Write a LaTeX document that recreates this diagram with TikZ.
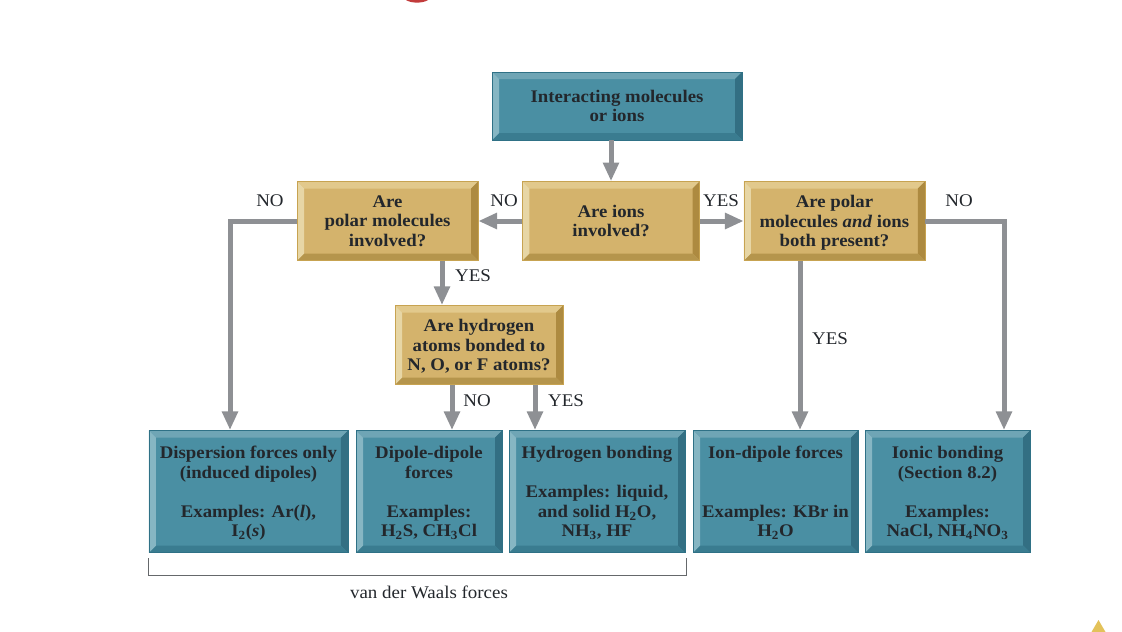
\documentclass[tikz,border=0pt]{standalone}
\usepackage{fontspec}
\setmainfont[FakeStretch=1.06]{Liberation Serif}
\usepackage{xcolor}
\usetikzlibrary{arrows.meta,calc}

\definecolor{tealface}{HTML}{4A8FA3}
\definecolor{tealedge}{HTML}{2F7186}
\definecolor{tealtop}{HTML}{6FA5B5}
\definecolor{teallight}{HTML}{86B6C3}
\definecolor{tealdark}{HTML}{336F83}
\definecolor{tealbottom}{HTML}{3A7C90}
\definecolor{tanface}{HTML}{D4B36C}
\definecolor{tanedge}{HTML}{C7A351}
\definecolor{tantop}{HTML}{E2C98C}
\definecolor{tanlight}{HTML}{E7D6A5}
\definecolor{tandark}{HTML}{AD8A40}
\definecolor{tanbottom}{HTML}{B5954C}
\definecolor{flowgray}{HTML}{8E9094}
\definecolor{inktext}{HTML}{23272C}
\definecolor{capred}{HTML}{C23B3B}
\definecolor{capgold}{HTML}{E3C25A}

% four slanted strips round the inside of a box: top, right, bottom, left
\newcommand{\bevelparts}[4]{
  \coordinate (nw) at (path picture bounding box.north west);
  \coordinate (ne) at (path picture bounding box.north east);
  \coordinate (se) at (path picture bounding box.south east);
  \coordinate (sw) at (path picture bounding box.south west);
  \fill[#1] (nw) -- (ne) -- ($(ne)+(-5.25pt,-5.25pt)$) -- ($(nw)+(5.25pt,-5.25pt)$) -- cycle;
  \fill[#2] (ne) -- (se) -- ($(se)+(-5.25pt,5.25pt)$) -- ($(ne)+(-5.25pt,-5.25pt)$) -- cycle;
  \fill[#3] (se) -- (sw) -- ($(sw)+(5.25pt,5.25pt)$) -- ($(se)+(-5.25pt,5.25pt)$) -- cycle;
  \fill[#4] (sw) -- (nw) -- ($(nw)+(5.25pt,-5.25pt)$) -- ($(sw)+(5.25pt,5.25pt)$) -- cycle;
}

\tikzstyle{boxtext} = [rectangle, align=center, inner sep=0pt, text=inktext, text depth=0pt, font=\fontsize{13.3}{14.6}\selectfont\bfseries]
\tikzstyle{tealbox} = [boxtext, draw=tealedge, line width=0.5pt, fill=tealface, path picture={\bevelparts{tealtop}{tealdark}{tealbottom}{teallight}}]
\tikzstyle{tanbox} = [boxtext, draw=tanedge, line width=0.5pt, fill=tanface, minimum height=59.25pt, path picture={\bevelparts{tantop}{tandark}{tanbottom}{tanlight}}]
\tikzstyle{result} = [tealbox, minimum height=91.5pt]
\tikzstyle{invis} = [draw=none, text=inktext, font=\fontsize{13.4}{14.6}\selectfont]
\tikzstyle{flow} = [flowgray, line width=3.75pt, -{Triangle[length=14pt,width=11.5pt]}]

\begin{document}
\begin{tikzpicture}[x=0.75pt,y=-0.75pt]
  \useasboundingbox (0,0) rectangle (1122,632);

  \node[tanbox, minimum width=133pt] (ions) at (611,221) {Are ions\\involved?};
  \node[tealbox, minimum width=187.5pt, minimum height=51pt] (start) [above of=ions, node distance=86.25pt, xshift=4.5pt] {Interacting molecules\\or ions};
  \node[tanbox, minimum width=135.75pt] (polar) [left of=ions, node distance=167.6pt] {Are\\polar molecules\\involved?};
  \node[tanbox, minimum width=135.75pt] (both) [right of=ions, node distance=167.6pt] {Are polar\\molecules \textit{and} ions\\both present?};
  \node[tanbox, minimum width=126pt] (hydrogen) [below of=polar, node distance=93pt, xshift=68.6pt] {Are hydrogen\\atoms bonded to\\N, O, or F atoms?};

  \node[result, minimum width=109.5pt] (dipole) [below of=hydrogen, node distance=109.9pt, xshift=-37.5pt] {Dipole-dipole\\forces\\[14.6pt]Examples:\\H\textsubscript{2}S, CH\textsubscript{3}Cl};
  \node[result, minimum width=149.25pt] (dispersion) [left of=dipole, node distance=135.4pt] {Dispersion forces only\\(induced dipoles)\\[14.6pt]Examples: Ar(\textit{l}),\\I\textsubscript{2}(\textit{s})};
  \node[result, minimum width=132pt] (hbond) [right of=dipole, node distance=126pt] {Hydrogen bonding\\[14.6pt]Examples: liquid,\\and solid H\textsubscript{2}O,\\NH\textsubscript{3}, HF};
  \node[result, minimum width=123.75pt] (iondipole) [right of=hbond, node distance=133.9pt] {Ion-dipole forces\\[29.2pt]Examples: KBr in\\H\textsubscript{2}O};
  \node[result, minimum width=123.75pt] (ionic) [right of=iondipole, node distance=129pt] {Ionic bonding\\(Section 8.2)\\[14.6pt]Examples:\\NaCl, NH\textsubscript{4}NO\textsubscript{3}};

  \coordinate (in_dispersion) at (230,430);
  \coordinate (in_hydrogen) at (442,305);
  \coordinate (in_dipole) at (452,430);
  \coordinate (in_hbond) at (535,430);
  \coordinate (in_iondipole) at (800,430);
  \coordinate (in_ionic) at (1004,430);

  \draw[flow] (ions |- start.south) -- (ions.north);
  \draw[flow] (ions.west) -- (polar.east);
  \draw[flow] (ions.east) -- (both.west);
  \draw[flow] (polar.west) -| (in_dispersion);
  \draw[flow] (in_hydrogen |- polar.south) -- (in_hydrogen);
  \draw[flow] (in_dipole |- hydrogen.south) -- (in_dipole);
  \draw[flow] (in_hbond |- hydrogen.south) -- (in_hbond);
  \draw[flow] (in_iondipole |- both.south) -- (in_iondipole);
  \draw[flow] (both.east) -| (in_ionic);

  \node[invis] (no_polar) at (270,201) {NO};
  \node[invis] (no_ions) at (504,201) {NO};
  \node[invis] (yes_ions) at (721,201) {YES};
  \node[invis] (no_both) at (959,201) {NO};
  \node[invis] (yes_polar) at (473,276) {YES};
  \node[invis] (yes_both) at (830,339) {YES};
  \node[invis] (no_hydrogen) at (477,401) {NO};
  \node[invis] (yes_hydrogen) at (566,401) {YES};

  % bracket under the first three boxes
  \coordinate (brace_a) at (148,558);
  \coordinate (brace_b) at (686,558);
  \draw[inktext!70, line width=0.6pt] (brace_a) -- (148,575) -- (686,575) -- (brace_b);
  \node[invis] (vdw) at (429,592) {van der Waals forces};

  % cut off shapes at the page edges
  \fill[capred] (406,0) .. controls (411,3.5) and (423,3.5) .. (428,0) -- cycle;
  \fill[capgold] (1098.5,620) -- (1105.5,632) -- (1091.5,632) -- cycle;
\end{tikzpicture}
\end{document}
